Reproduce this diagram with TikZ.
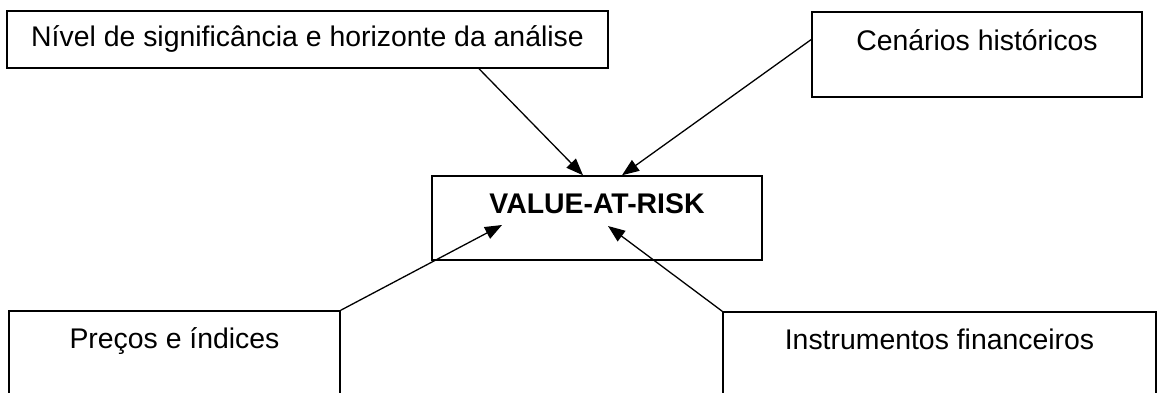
\documentclass[tikz,border=0pt]{standalone}
\usepackage{fontspec}
\setmainfont{Liberation Sans}
\usetikzlibrary{arrows.meta}

\begin{document}
\begin{tikzpicture}[x=1pt,y=-1pt,
    caixa/.style={draw,line width=1.5pt,inner sep=0pt,anchor=base,
        font=\fontsize{28.4}{34}\selectfont},
    seta/.style={-{Triangle[length=17pt,width=13pt]},line width=1.3pt}]
    \fill[white] (0,0) rectangle (1158,392);
    \useasboundingbox (0,0) rectangle (1158,392);
    \node[caixa,minimum width=601pt,text height=35pt,text depth=22pt]
        (nivel) at (307.5,46) {Nível de significância e horizonte da análise};
    \node[caixa,minimum width=330pt,text height=38pt,text depth=47pt]
        (hist) at (977,50) {Cenários históricos};
    \node[caixa,minimum width=330pt,text height=37pt,text depth=47pt]
        (var) at (597,213) {\bfseries VALUE-AT-RISK};
    \node[caixa,minimum width=331pt,text height=37pt,text depth=72pt]
        (precos) at (174.5,348) {Preços e índices};
    \node[caixa,minimum width=433pt,text height=37pt,text depth=71pt]
        (instr) at (939.5,349) {Instrumentos financeiros};
    \draw[seta] ([xshift=171.5pt]nivel.south) -- ([xshift=-14pt]var.north);
    \draw[seta] ([yshift=15pt]hist.west) -- ([xshift=25pt]var.north);
    \draw[seta] (precos.north east) -- ([xshift=-95pt,yshift=-7pt]var.center);
    \draw[seta] (instr.north west) -- ([xshift=11pt,yshift=-8pt]var.center);
\end{tikzpicture}
\end{document}
